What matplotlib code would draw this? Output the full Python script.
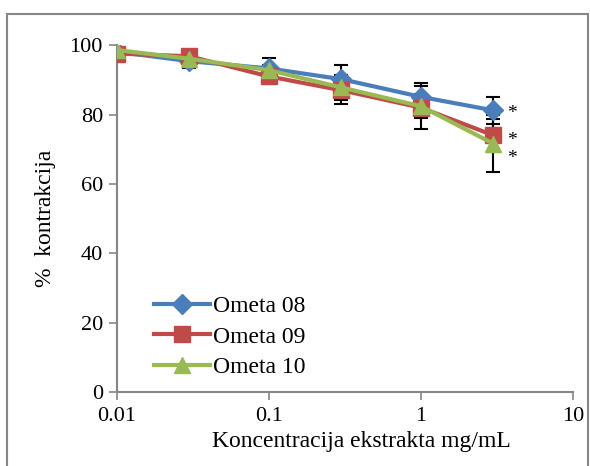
import numpy as np
import matplotlib.pyplot as plt
from matplotlib.patches import Rectangle

# koncentracije (mg/mL)
conc = [0.01, 0.03, 0.1, 0.3, 1, 3]

ometa08 = [98.1, 95.4, 93.3, 90.2, 85.1, 81.2]
ometa08_err = [0.5, 2.0, 2.9, 4.2, 4.1, 3.9]

ometa09 = [97.6, 96.8, 91.0, 87.0, 82.0, 74.0]
ometa09_err = [0.5, 0.8, 2.1, 4.0, 6.1, 4.8]

ometa10 = [98.6, 96.1, 92.8, 87.8, 82.4, 71.6]
ometa10_err = [0.5, 0.8, 1.5, 3.5, 3.5, 8.2]

star_x = [4.0, 4.0, 4.0]
star_y = [80.4, 72.5, 67.4]

labels = ['Ometa 08', 'Ometa 09', 'Ometa 10']
colors = ['#4A7EBB', '#BE4B48', '#98B954']
markers = ['D', 's', '^']
msizes = [10, 11, 12]

plt.rcParams['font.family'] = ['Liberation Serif', 'DejaVu Serif']

fig = plt.figure(figsize=(5.9, 4.66), dpi=100)
ax = fig.add_axes([0.198, 0.159, 0.773, 0.744])

series = [(ometa08, ometa08_err), (ometa09, ometa09_err), (ometa10, ometa10_err)]
for i in range(len(series)):
    y, e = series[i]
    ax.errorbar(conc, y, yerr=e, fmt='none', ecolor='black', elinewidth=1.5,
                capsize=5, capthick=1.5, zorder=2)
for i in range(len(series)):
    y, e = series[i]
    ax.plot(conc, y, color=colors[i], marker=markers[i], markersize=msizes[i],
            linewidth=3, label=labels[i], zorder=3)

for i in range(len(star_x)):
    ax.text(star_x[i], star_y[i], '*', fontsize=14, ha='center', va='center')

ax.set_xscale('log')
ax.set_xlim(0.01, 10)
ax.set_ylim(0, 100)
ax.set_xticks([0.01, 0.1, 1, 10])
ax.set_xticklabels(['0.01', '0.1', '1', '10'])
ax.set_yticks([0, 20, 40, 60, 80, 100])
ax.minorticks_off()
ax.tick_params(axis='both', labelsize=16, color='#868686', width=1.2, length=6)
ax.tick_params(axis='x', pad=5)
ax.tick_params(axis='y', pad=4)

for s in ['top', 'right']:
    ax.spines[s].set_visible(False)
for s in ['left', 'bottom']:
    ax.spines[s].set_color('#868686')
    ax.spines[s].set_linewidth(1.5)

ax.set_ylabel('%  kontrakcija', fontsize=17, labelpad=10)
fig.text(0.613, 0.052, 'Koncentracija ekstrakta mg/mL', fontsize=17,
         ha='center', va='center')

ax.legend(loc='upper left', bbox_to_anchor=(0.06, 0.305), frameon=False,
          fontsize=17, handlelength=2.4, handletextpad=0.1,
          labelspacing=0.38, borderaxespad=0)

# okvir oko grafikona
fig.patches.append(Rectangle((0.012, -0.05), 0.985, 1.02, transform=fig.transFigure,
                             fill=False, edgecolor='#868686', linewidth=1.5))

fig.savefig('out.png', dpi=100)
